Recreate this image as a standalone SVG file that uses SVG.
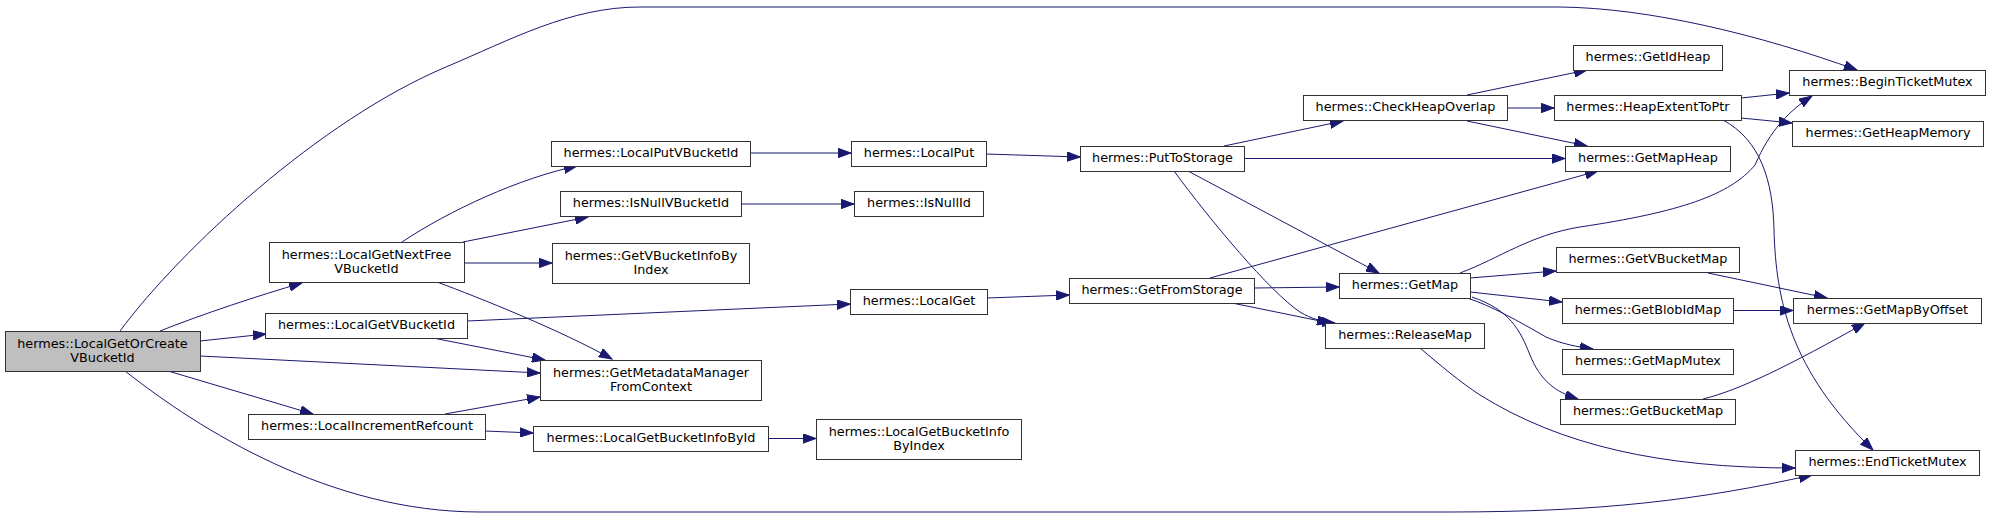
<svg xmlns="http://www.w3.org/2000/svg" width="1991" height="519" viewBox="0 0 1991 519">
<style>
.n rect{fill:#ffffff;stroke:#333333;stroke-width:1}
.n.main rect{fill:#bfbfbf}
.n text{font-family:"DejaVu Sans","Liberation Sans",sans-serif;font-size:12.8px;fill:#000000;text-anchor:middle}
.e path{fill:none;stroke:#191970;stroke-width:1;marker-end:url(#ah)}
</style>
<defs>
<marker id="ah" markerUnits="userSpaceOnUse" markerWidth="14" markerHeight="10" refX="13" refY="5" orient="auto" viewBox="0 0 14 10">
<path d="M0,0.3 L13,5 L0,9.7 z" fill="#191970" stroke="#191970" stroke-width="1"/>
</marker>
</defs>
<rect x="0" y="0" width="1991" height="519" fill="#ffffff"/>
<g id="edges" class="e">
<path d="M120,331 C180,250 320,120 446,67 C510,40 570,7 640,7 L1560,7 C1650,8 1760,35 1857,70"/>
<path d="M160,331 C200,315 260,295 302,283"/>
<path d="M200,341 L266,334"/>
<path d="M200,356 L540,373"/>
<path d="M168,371 L313,414"/>
<path d="M125,371 C200,430 330,512 480,512 L1450,512 C1600,512 1700,500 1812,475"/>
<path d="M402,242 C450,210 520,178 577,166"/>
<path d="M463,242 L588,217"/>
<path d="M464,263 L552,263"/>
<path d="M437,282 C480,298 560,330 612,359"/>
<path d="M467,321 L850,304"/>
<path d="M433,338 L545,360"/>
<path d="M445,414 L540,397"/>
<path d="M485,431 L533,433"/>
<path d="M768,438.5 L816,438.5"/>
<path d="M750,153 L851,153"/>
<path d="M741,204 L854,204"/>
<path d="M986,154 L1080,157"/>
<path d="M987,298 L1069,295"/>
<path d="M1224,146 L1343,121"/>
<path d="M1244,158.5 L1565,158.5"/>
<path d="M1188,171 L1379,273"/>
<path d="M1174,171 C1210,220 1270,292 1300,312 C1312,319 1322,322 1335,323"/>
<path d="M1210,278 L1598,171"/>
<path d="M1254,288 L1339,287"/>
<path d="M1232,303 L1330,323"/>
<path d="M1467,95 L1587,70"/>
<path d="M1507,108 L1554,108"/>
<path d="M1467,121 L1587,146"/>
<path d="M1741,98 L1789,93"/>
<path d="M1741,118 L1792,123"/>
<path d="M1723,120 C1760,140 1773,180 1774,230 C1776,300 1790,370 1873,450"/>
<path d="M1460,273 C1500,258 1530,235 1580,227 C1680,212 1730,195 1755,165 C1770,130 1790,110 1812,96"/>
<path d="M1470,278 L1556,271"/>
<path d="M1470,292 L1562,302"/>
<path d="M1467,298 C1490,305 1520,322 1546,337 C1562,344 1578,347 1593,349"/>
<path d="M1472,297 C1510,310 1520,330 1530,355 C1540,380 1555,392 1578,399"/>
<path d="M1420,348 C1440,365 1460,382 1480,395 C1560,445 1660,468 1795,468"/>
<path d="M1708,273 L1827,298"/>
<path d="M1733,310.5 L1793,310.5"/>
<path d="M1703,399 C1740,390 1790,365 1865,323"/>
</g>
<g id="n1" class="n main"><rect x="5.5" y="331.5" width="195" height="40"/><text x="102.5" y="347.7">hermes::LocalGetOrCreate</text><text x="102.5" y="362">VBucketId</text></g>
<g id="n2" class="n"><rect x="269.5" y="242.5" width="195" height="40"/><text x="366.5" y="258.7">hermes::LocalGetNextFree</text><text x="366.5" y="273">VBucketId</text></g>
<g id="n3" class="n"><rect x="265.5" y="313.5" width="202" height="25"/><text x="366.5" y="329.3">hermes::LocalGetVBucketId</text></g>
<g id="n4" class="n"><rect x="248.5" y="414.5" width="237" height="25"/><text x="367" y="430.3">hermes::LocalIncrementRefcount</text></g>
<g id="n5" class="n"><rect x="551.5" y="141.5" width="199" height="25"/><text x="651" y="157.3">hermes::LocalPutVBucketId</text></g>
<g id="n6" class="n"><rect x="560.5" y="191.5" width="181" height="25"/><text x="651" y="207.3">hermes::IsNullVBucketId</text></g>
<g id="n7" class="n"><rect x="552.5" y="243.5" width="197" height="40"/><text x="651" y="259.7">hermes::GetVBucketInfoBy</text><text x="651" y="274">Index</text></g>
<g id="n8" class="n"><rect x="540.5" y="360.5" width="221" height="40"/><text x="651" y="376.7">hermes::GetMetadataManager</text><text x="651" y="391">FromContext</text></g>
<g id="n9" class="n"><rect x="533.5" y="426.5" width="235" height="25"/><text x="651" y="442.3">hermes::LocalGetBucketInfoById</text></g>
<g id="n10" class="n"><rect x="851.5" y="141.5" width="135" height="25"/><text x="919" y="157.3">hermes::LocalPut</text></g>
<g id="n11" class="n"><rect x="854.5" y="191.5" width="129" height="25"/><text x="919" y="207.3">hermes::IsNullId</text></g>
<g id="n12" class="n"><rect x="850.5" y="289.5" width="137" height="25"/><text x="919" y="305.3">hermes::LocalGet</text></g>
<g id="n13" class="n"><rect x="816.5" y="419.5" width="205" height="40"/><text x="919" y="435.7">hermes::LocalGetBucketInfo</text><text x="919" y="450">ByIndex</text></g>
<g id="n14" class="n"><rect x="1080.5" y="146.5" width="164" height="25"/><text x="1162.5" y="162.3">hermes::PutToStorage</text></g>
<g id="n15" class="n"><rect x="1069.5" y="278.5" width="185" height="25"/><text x="1162" y="294.3">hermes::GetFromStorage</text></g>
<g id="n16" class="n"><rect x="1303.5" y="95.5" width="204" height="25"/><text x="1405.5" y="111.3">hermes::CheckHeapOverlap</text></g>
<g id="n17" class="n"><rect x="1339.5" y="273.5" width="131" height="25"/><text x="1405" y="289.3">hermes::GetMap</text></g>
<g id="n18" class="n"><rect x="1325.5" y="323.5" width="159" height="25"/><text x="1405" y="339.3">hermes::ReleaseMap</text></g>
<g id="n19" class="n"><rect x="1573.5" y="45.5" width="149" height="25"/><text x="1648" y="61.3">hermes::GetIdHeap</text></g>
<g id="n20" class="n"><rect x="1554.5" y="95.5" width="187" height="25"/><text x="1648" y="111.3">hermes::HeapExtentToPtr</text></g>
<g id="n21" class="n"><rect x="1565.5" y="146.5" width="165" height="25"/><text x="1648" y="162.3">hermes::GetMapHeap</text></g>
<g id="n22" class="n"><rect x="1556.5" y="247.5" width="183" height="25"/><text x="1648" y="263.3">hermes::GetVBucketMap</text></g>
<g id="n23" class="n"><rect x="1562.5" y="298.5" width="171" height="25"/><text x="1648" y="314.3">hermes::GetBlobIdMap</text></g>
<g id="n24" class="n"><rect x="1562.5" y="349.5" width="171" height="25"/><text x="1648" y="365.3">hermes::GetMapMutex</text></g>
<g id="n25" class="n"><rect x="1560.5" y="399.5" width="175" height="25"/><text x="1648" y="415.3">hermes::GetBucketMap</text></g>
<g id="n26" class="n"><rect x="1789.5" y="70.5" width="196" height="25"/><text x="1887.5" y="86.3">hermes::BeginTicketMutex</text></g>
<g id="n27" class="n"><rect x="1792.5" y="121.5" width="191" height="25"/><text x="1888" y="137.3">hermes::GetHeapMemory</text></g>
<g id="n28" class="n"><rect x="1793.5" y="298.5" width="188" height="25"/><text x="1887.5" y="314.3">hermes::GetMapByOffset</text></g>
<g id="n29" class="n"><rect x="1795.5" y="450.5" width="184" height="25"/><text x="1887.5" y="466.3">hermes::EndTicketMutex</text></g>
</svg>
